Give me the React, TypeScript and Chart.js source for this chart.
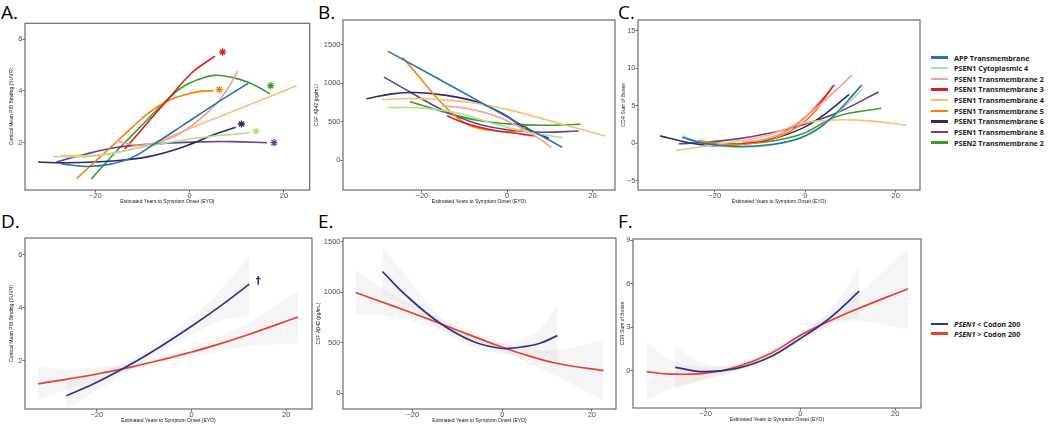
import React, { useEffect, useRef } from "react";
import { Chart, registerables } from "chart.js";
Chart.register(...registerables);

type Pt = [number, number];
type Bd = [number, number, number];

// ---------- legend / categories ----------
const GROUP_LABELS = [
  "APP Transmembrane",
  "PSEN1 Cytoplasmic 4",
  "PSEN1 Transmembrane 2",
  "PSEN1 Transmembrane 3",
  "PSEN1 Transmembrane 4",
  "PSEN1 Transmembrane 5",
  "PSEN1 Transmembrane 6",
  "PSEN1 Transmembrane 8",
  "PSEN2 Transmembrane 2",
];
const GROUP_COLORS = ["#1f78b4", "#b2df8a", "#fb9a99", "#e31a1c", "#fdbf6f", "#ff7f00", "#2a2a74", "#6a3d9a", "#33a02c"];
const CODON_LABELS = ["< Codon 200", "> Codon 200"];
const CODON_COLORS = ["#2e3192", "#f03e26"];

// ---------- tick labels ----------
const X_TICKS = [-20, 0, 20];
const Y_TICKS_PIB = [2, 4, 6];
const Y_TICKS_CSF = [0, 500, 1000, 1500];
const Y_TICKS_CDR_C = [-5, 0, 5, 10, 15];
const Y_TICKS_CDR_F = [0, 3, 6, 9];

const X_TITLE = "Estimated Years to Symptom Onset (EYO)";
const Y_TITLE_PIB = "Cortical Mean PIB Binding (SUVR)";
const Y_TITLE_CSF = "CSF A\u03b242 (pg/mL)";
const Y_TITLE_CDR = "CDR Sum of Boxes";

// ---------- Panel A: PIB by mutation location ----------
const A_APP: Pt[] = [[-27.2, 1.18], [-21.9, 1.08], [-17.0, 1.16], [-12.1, 1.43], [-7.2, 1.98], [-1.5, 2.66], [5.5, 3.5], [12.5, 4.3]];
const A_CYTO4: Pt[] = [[-27.2, 1.5], [-19.1, 1.53], [-8.6, 1.87], [2.0, 2.19], [12.8, 2.38]];
const A_TM2: Pt[] = [[-15.6, 2.06], [-10.7, 1.9], [-5.1, 2.1], [-0.2, 2.57], [5.4, 3.45], [8.3, 4.15], [10.2, 4.77]];
const A_TM3: Pt[] = [[-13.7, 1.75], [-9, 2.75], [-4.4, 3.7], [0.5, 4.7], [5.4, 5.34]];
const A_TM4: Pt[] = [[-28.9, 1.46], [-19.1, 1.5], [-8.6, 1.94], [2.0, 2.69], [12.5, 3.45], [22.7, 4.2]];
const A_TM5: Pt[] = [[-23.9, 0.62], [-19.1, 1.42], [-15.6, 2.01], [-12.1, 2.6], [-8.6, 3.16], [-5.1, 3.57], [-1.5, 3.82], [2.0, 3.97], [5.1, 4.01]];
const A_TM6: Pt[] = [[-32.1, 1.25], [-26.1, 1.22], [-15.6, 1.3], [-8.6, 1.46], [-1.5, 1.82], [5.5, 2.33], [9.8, 2.59]];
const A_TM8: Pt[] = [[-28.2, 1.25], [-22.6, 1.53], [-15.6, 1.81], [-8.6, 1.94], [2.0, 2.03], [9.0, 2.04], [16.4, 2.0]];
const A_PSEN2: Pt[] = [[-20.8, 0.6], [-15.6, 1.65], [-12.1, 2.3], [-8.6, 2.95], [-5.1, 3.6], [-1.5, 4.15], [2.0, 4.45], [5.4, 4.6], [9.0, 4.52], [12.4, 4.33], [15.0, 4.1], [17.0, 3.89]];
// significance asterisks (x, y) and their group index
const A_STAR_X = [7.0, 17.2, 6.3, 11.0, 14.1, 17.9];
const A_STAR_Y = [5.5, 4.2, 4.05, 2.72, 2.44, 2.0];
const A_STAR_GROUP = [3, 8, 5, 6, 1, 7];

// ---------- Panel B: CSF Abeta42 ----------
const B_APP: Pt[] = [[-27.9, 1417], [-10, 870], [0, 562], [12.9, 166]];
const B_CYTO4: Pt[] = [[-27.9, 684], [-19.1, 676], [-11.3, 610], [-3.5, 480], [4.3, 371], [12.9, 292]];
const B_TM2: Pt[] = [[-15.2, 706], [-9.8, 676], [-3.5, 589], [2.7, 436], [7.4, 283], [10.4, 161]];
const B_TM3: Pt[] = [[-14.1, 576], [-9.8, 480], [-3.5, 392], [2.0, 349], [6.5, 314]];
const B_TM4: Pt[] = [[-29.5, 785], [-23, 802], [-15.2, 785], [-7.4, 741], [0.4, 654], [12.1, 480], [23, 314]];
const B_TM5: Pt[] = [[-24.5, 1338], [-20.7, 1090], [-16.8, 828], [-12.9, 610], [-9, 458], [-3.5, 384], [2, 371], [4.7, 436]];
const B_TM6: Pt[] = [[-33, 798], [-27, 863], [-21.5, 881], [-15.2, 850], [-7.4, 763], [-1.2, 610], [4.3, 414], [9.8, 283]];
const B_TM8: Pt[] = [[-28.9, 1081], [-23, 894], [-15.2, 654], [-7.4, 480], [0.4, 392], [8.2, 362], [16.8, 379]];
const B_PSEN2: Pt[] = [[-22.8, 763], [-15.2, 632], [-7.4, 523], [0.4, 471], [8.2, 453], [17.2, 466]];

// ---------- Panel C: CDR sum of boxes ----------
const C_APP: Pt[] = [[-27.2, 0.79], [-22.7, 0], [-15.4, -0.44], [-8, -0.22], [-0.6, 0.79], [5.3, 3.09], [12.5, 7.73]];
const C_CYTO4: Pt[] = [[-27.2, 0.97], [-22.7, 0], [-15.4, -0.53], [-8, -0.31], [-0.6, 0.88], [5.3, 3.09], [12.7, 7.2]];
const C_TM2: Pt[] = [[-14, 0.1], [-9, 0.5], [-4.3, 1.55], [0.9, 3.97], [5.3, 6.2], [10.3, 9.05]];
const C_TM3: Pt[] = [[-13.9, 0], [-8, 0.53], [-2.1, 2.43], [2.4, 4.86], [6.4, 7.73]];
const C_TM4: Pt[] = [[-28.6, -0.97], [-22.7, -0.44], [-15.4, 0.22], [-8, 1.1], [-0.6, 2.65], [6.8, 3.09], [14.2, 2.96], [22.4, 2.38]];
const C_TM5: Pt[] = [[-23.8, 0.35], [-15.4, -0.22], [-8, 0.44], [-2.1, 2.0], [2.4, 4.4], [6.1, 7.6]];
const C_TM6: Pt[] = [[-32.1, 0.97], [-25.7, 0.05], [-21.3, -0.3], [-15.4, -0.22], [-8, 0.44], [-0.6, 2.0], [4.6, 3.97], [9.7, 6.5]];
const C_TM8: Pt[] = [[-28, -0.09], [-22.7, 0.09], [-15.4, 0.53], [-8, 1.32], [-0.6, 2.43], [6.8, 3.97], [16.2, 6.8]];
const C_PSEN2: Pt[] = [[-23.8, 0.09], [-15.4, -0.09], [-8, 0.22], [-0.6, 1.24], [6.8, 3.53], [16.8, 4.64]];

// ---------- Panel D: PIB by codon ----------
const D_LOW: Pt[] = [[-26.4, 0.68], [-20.1, 1.18], [-13, 1.85], [-6.7, 2.52], [0, 3.3], [6, 4.05], [12.2, 4.89]];
const D_HIGH: Pt[] = [[-32.4, 1.13], [-26.4, 1.3], [-19.4, 1.52], [-12.3, 1.78], [-5.3, 2.08], [0, 2.33], [5.3, 2.6], [12.2, 3.0], [22.5, 3.65]];
const D_LOW_BAND: Bd[] = [[-26.4, 0.2, 1.2], [-20.1, 0.85, 1.55], [-13, 1.68, 2.02], [-6.7, 2.32, 2.72], [0, 2.95, 3.65], [6, 3.5, 4.65], [12.2, 3.7, 5.95]];
const D_HIGH_BAND: Bd[] = [[-32.4, 0.5, 1.78], [-26.4, 0.92, 1.68], [-19.4, 1.3, 1.76], [-12.3, 1.64, 1.93], [-5.3, 1.95, 2.22], [0, 2.15, 2.52], [5.3, 2.33, 2.88], [12.2, 2.55, 3.45], [22.5, 2.65, 4.65]];
const D_DAGGER: Pt = [14.1, 5.0];

// ---------- Panel E: CSF by codon ----------
const E_LOW: Pt[] = [[-26.8, 1203], [-21.4, 962], [-13.9, 692], [-6.5, 511], [-0.5, 445], [3.9, 455], [8.4, 494], [12.3, 570]];
const E_HIGH: Pt[] = [[-32.8, 995], [-25.1, 873], [-17.6, 751], [-10.2, 626], [-2.8, 501], [4.7, 386], [12.1, 297], [22.6, 224]];
const E_LOW_BAND: Bd[] = [[-26.8, 960, 1440], [-20, 830, 1080], [-13.9, 630, 760], [-6.5, 460, 565], [-0.5, 390, 500], [3.9, 380, 530], [8.4, 360, 640], [12.3, 310, 870]];
const E_HIGH_BAND: Bd[] = [[-32.8, 780, 1210], [-25, 760, 990], [-17.6, 680, 820], [-10.2, 580, 670], [-2.8, 460, 545], [4.7, 320, 455], [12.1, 170, 430], [22.6, -75, 525]];

// ---------- Panel F: CDR by codon ----------
const F_LOW: Pt[] = [[-26.4, 0.23], [-20.4, -0.07], [-13.4, 0.16], [-6.3, 0.96], [0, 2.22], [4.2, 3.13], [7.7, 4.04], [12.4, 5.48]];
const F_HIGH: Pt[] = [[-32.4, -0.07], [-27.5, -0.23], [-20.4, -0.18], [-13.4, 0.27], [-6.3, 1.19], [0, 2.44], [4.2, 3.13], [11.3, 4.16], [22.7, 5.64]];
const F_LOW_BAND: Bd[] = [[-26.4, -1.3, 1.7], [-20.4, -0.6, 0.5], [-13.4, -0.1, 0.45], [-6.3, 0.75, 1.2], [0, 1.95, 2.5], [4.2, 2.75, 3.55], [7.7, 3.4, 4.75], [12.4, 3.6, 7.25]];
const F_HIGH_BAND: Bd[] = [[-32.4, -2.05, 1.95], [-27, -1.2, 0.7], [-20.4, -0.6, 0.25], [-13.4, 0.05, 0.5], [-6.3, 0.95, 1.45], [0, 2.2, 2.7], [4.2, 2.8, 3.5], [11.3, 3.4, 5.0], [22.7, 2.85, 8.5]];

// ---------- styling ----------
const BAND_FILL = "rgba(140,140,140,0.09)";
const TICK_FONT = { family: "'Liberation Sans', Arial, sans-serif", size: 7.5 };
const TITLE_FONT = { family: "'Liberation Sans', Arial, sans-serif", size: 5 };
const X_H = 16;
const TENSION = 0.4;

type PanelSpec = {
  label: string;
  labelLeft: number;
  labelTop: number;
  left: number; // canvas left
  boxL: number;
  boxT: number;
  boxR: number;
  boxB: number;
  xMin: number;
  xMax: number;
  yMin: number;
  yMax: number;
  yTicks: number[];
  yTitle: string;
  lines: { data: Pt[]; color: string; width: number }[];
  bands?: { data: Bd[] }[];
  stars?: { x: number[]; y: number[]; colors: string[] };
  dagger?: { at: Pt; color: string };
};

const groupA = [A_APP, A_CYTO4, A_TM2, A_TM3, A_TM4, A_TM5, A_TM6, A_TM8, A_PSEN2];
const groupB = [B_APP, B_CYTO4, B_TM2, B_TM3, B_TM4, B_TM5, B_TM6, B_TM8, B_PSEN2];
const groupC = [C_APP, C_CYTO4, C_TM2, C_TM3, C_TM4, C_TM5, C_TM6, C_TM8, C_PSEN2];

const mkGroup = (arr: Pt[][]) => arr.map((d, i) => ({ data: d, color: GROUP_COLORS[i], width: 1.6 }));

const PANELS: PanelSpec[] = [
  {
    label: "A.", labelLeft: 1, labelTop: 3, left: 6, boxL: 25, boxT: 20, boxR: 312, boxB: 190,
    xMin: -34.88, xMax: 25.47, yMin: 0.17, yMax: 6.61, yTicks: Y_TICKS_PIB, yTitle: Y_TITLE_PIB,
    lines: mkGroup(groupA),
    stars: { x: A_STAR_X, y: A_STAR_Y, colors: A_STAR_GROUP.map((g) => GROUP_COLORS[g]) },
  },
  {
    label: "B.", labelLeft: 318, labelTop: 3, left: 311, boxL: 343, boxT: 20, boxR: 615, boxB: 190,
    xMin: -38.5, xMax: 25.3, yMin: -391, yMax: 1826, yTicks: Y_TICKS_CSF, yTitle: Y_TITLE_CSF,
    lines: mkGroup(groupB),
  },
  {
    label: "C.", labelLeft: 618, labelTop: 3, left: 618, boxL: 638, boxT: 20, boxR: 920, boxB: 190,
    xMin: -36.98, xMax: 25.38, yMin: -6.24, yMax: 16.4, yTicks: Y_TICKS_CDR_C, yTitle: Y_TITLE_CDR,
    lines: mkGroup(groupC),
  },
  {
    label: "D.", labelLeft: 1, labelTop: 212, left: 6, boxL: 25, boxT: 238, boxR: 312, boxB: 409,
    xMin: -35.16, xMax: 25.43, yMin: 0.18, yMax: 6.63, yTicks: Y_TICKS_PIB, yTitle: Y_TITLE_PIB,
    lines: [
      { data: D_LOW, color: CODON_COLORS[0], width: 1.7 },
      { data: D_HIGH, color: CODON_COLORS[1], width: 1.7 },
    ],
    bands: [{ data: D_LOW_BAND }, { data: D_HIGH_BAND }],
    dagger: { at: D_DAGGER, color: CODON_COLORS[0] },
  },
  {
    label: "E.", labelLeft: 318, labelTop: 212, left: 313, boxL: 343, boxT: 238, boxR: 616, boxB: 409,
    xMin: -35.6, xMax: 25.4, yMin: -155, yMax: 1534, yTicks: Y_TICKS_CSF, yTitle: Y_TITLE_CSF,
    lines: [
      { data: E_LOW, color: CODON_COLORS[0], width: 1.7 },
      { data: E_HIGH, color: CODON_COLORS[1], width: 1.7 },
    ],
    bands: [{ data: E_LOW_BAND }, { data: E_HIGH_BAND }],
  },
  {
    label: "F.", labelLeft: 618, labelTop: 212, left: 617, boxL: 633, boxT: 239, boxR: 921, boxB: 408,
    xMin: -35.3, xMax: 25.43, yMin: -2.57, yMax: 9.07, yTicks: Y_TICKS_CDR_F, yTitle: Y_TITLE_CDR,
    lines: [
      { data: F_LOW, color: CODON_COLORS[0], width: 1.7 },
      { data: F_HIGH, color: CODON_COLORS[1], width: 1.7 },
    ],
    bands: [{ data: F_LOW_BAND }, { data: F_HIGH_BAND }],
  },
];

const fmt = (v: number) => (v < 0 ? "\u2212" + Math.abs(v) : String(v));

function Panel({ spec }: { spec: PanelSpec }) {
  const ref = useRef<HTMLCanvasElement>(null);
  const top = spec.boxT - 2;
  const width = spec.boxR - spec.left + 3;
  const height = spec.boxB - top + X_H;
  const yW = spec.boxL - spec.left;

  useEffect(() => {
    const cvs = ref.current;
    if (!cvs) return;
    const datasets: any[] = [];
    (spec.bands || []).forEach((b) => {
      datasets.push({
        data: b.data.map((p) => ({ x: p[0], y: p[2] })),
        borderColor: "transparent", borderWidth: 0, pointRadius: 0,
        fill: "+1", backgroundColor: BAND_FILL, tension: TENSION,
      });
      datasets.push({
        data: b.data.map((p) => ({ x: p[0], y: p[1] })),
        borderColor: "transparent", borderWidth: 0, pointRadius: 0,
        fill: false, tension: TENSION,
      });
    });
    spec.lines.forEach((l) => {
      datasets.push({
        data: l.data.map((p) => ({ x: p[0], y: p[1] })),
        borderColor: l.color, borderWidth: l.width, pointRadius: 0,
        fill: false, tension: TENSION, borderCapStyle: "butt",
      });
    });
    if (spec.stars) {
      const s = spec.stars;
      datasets.push({
        data: s.x.map((x, i) => ({ x, y: s.y[i] })),
        showLine: false, pointStyle: "star", pointRadius: 3.6,
        pointBorderColor: s.colors, pointBackgroundColor: s.colors, pointBorderWidth: 1.3,
      });
    }

    const boxPlugin = {
      id: "panelBox",
      afterDatasetsDraw(chart: any) {
        const { ctx, chartArea: a } = chart;
        ctx.save();
        ctx.strokeStyle = "#6b6b6b";
        ctx.lineWidth = 1.2;
        ctx.strokeRect(a.left, a.top, a.right - a.left, a.bottom - a.top);
        if (spec.dagger) {
          const px = chart.scales.x.getPixelForValue(spec.dagger.at[0]);
          const py = chart.scales.y.getPixelForValue(spec.dagger.at[1]);
          ctx.fillStyle = spec.dagger.color;
          ctx.font = "bold 10px 'DejaVu Sans', sans-serif";
          ctx.textAlign = "center";
          ctx.textBaseline = "middle";
          ctx.fillText("\u2020", px, py);
        }
        ctx.restore();
      },
    };

    const chart = new Chart(cvs, {
      type: "line",
      data: { datasets },
      options: {
        animation: false,
        responsive: false,
        devicePixelRatio: 1,
        events: [],
        layout: { padding: { top: 2, right: 3, left: 0, bottom: 0 } },
        plugins: {
          legend: { display: false },
          tooltip: { enabled: false },
          filler: { drawTime: "beforeDatasetsDraw" },
        } as any,
        scales: {
          x: {
            type: "linear",
            min: spec.xMin,
            max: spec.xMax,
            afterBuildTicks: (s: any) => { s.ticks = X_TICKS.map((v) => ({ value: v })); },
            afterFit: (s: any) => { s.height = X_H; s.paddingLeft = 0; s.paddingRight = 0; },
            grid: { display: true, drawOnChartArea: false, drawTicks: true, tickLength: 2.5, color: "#444", lineWidth: 0.8 },
            border: { display: false },
            ticks: { font: TICK_FONT, color: "#4d4d4d", padding: -1, maxRotation: 0, autoSkip: false, callback: (v: any) => fmt(Number(v)) },
            title: { display: true, text: X_TITLE, font: TITLE_FONT, color: "#111", padding: { top: 0, bottom: 1 } },
          },
          y: {
            type: "linear",
            min: spec.yMin,
            max: spec.yMax,
            afterBuildTicks: (s: any) => { s.ticks = spec.yTicks.map((v) => ({ value: v })); },
            afterFit: (s: any) => { s.width = yW; s.paddingTop = 0; s.paddingBottom = 0; },
            grid: { display: true, drawOnChartArea: false, drawTicks: true, tickLength: 2.5, color: "#444", lineWidth: 0.8 },
            border: { display: false },
            ticks: { font: TICK_FONT, color: "#4d4d4d", padding: 0, autoSkip: false, callback: (v: any) => fmt(Number(v)) },
            title: { display: true, text: spec.yTitle, font: TITLE_FONT, color: "#111", padding: { top: 3, bottom: 0 } },
          },
        },
      } as any,
      plugins: [boxPlugin],
    });
    return () => chart.destroy();
  }, []);

  return (
    <>
      <div
        style={{
          position: "absolute", left: spec.labelLeft, top: spec.labelTop,
          font: "19px 'Open Sans', 'Noto Sans', sans-serif", lineHeight: "19px", color: "#000",
        }}
      >
        {spec.label}
      </div>
      <canvas
        ref={ref}
        width={width}
        height={height}
        style={{ position: "absolute", left: spec.left, top, width, height }}
      />
    </>
  );
}

const LEG_FONT = "bold 7.2px 'Open Sans', 'Noto Sans', sans-serif";

export default function App() {
  return (
    <div style={{ position: "absolute", left: 0, top: 0, width: 1050, height: 425, background: "#fff", overflow: "hidden" }}>
      {PANELS.map((p) => (
        <Panel key={p.label} spec={p} />
      ))}
      {GROUP_LABELS.map((lab, i) => (
        <div
          key={lab}
          style={{
            position: "absolute", left: 931, top: 57.5 + i * 10.65 - 6, height: 12,
            display: "flex", alignItems: "center", whiteSpace: "nowrap",
          }}
        >
          <span style={{ display: "inline-block", width: 17, height: 2.5, background: GROUP_COLORS[i] }} />
          <span style={{ marginLeft: 6, font: LEG_FONT, color: "#1a1a1a" }}>{lab}</span>
        </div>
      ))}
      {CODON_LABELS.map((lab, i) => (
        <div
          key={lab}
          style={{
            position: "absolute", left: 931, top: 324 + i * 9.7 - 6, height: 12,
            display: "flex", alignItems: "center", whiteSpace: "nowrap",
          }}
        >
          <span style={{ display: "inline-block", width: 17, height: 2.5, background: CODON_COLORS[i] }} />
          <span style={{ marginLeft: 6, font: LEG_FONT, color: "#1a1a1a" }}>
            <i>PSEN1</i> {lab}
          </span>
        </div>
      ))}
    </div>
  );
}
